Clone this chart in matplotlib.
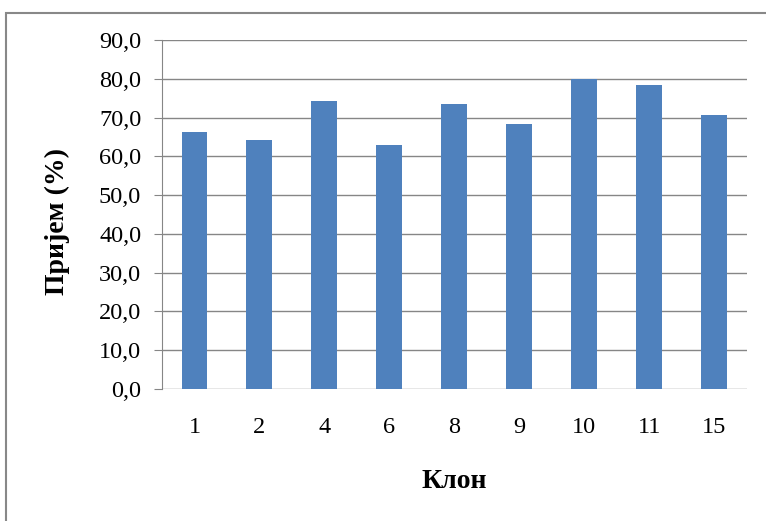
import matplotlib
matplotlib.use("Agg")
import matplotlib.pyplot as plt
from matplotlib.patches import Rectangle
from matplotlib.ticker import FuncFormatter

# clone numbers and acceptance percentage
clones = ["1", "2", "4", "6", "8", "9", "10", "11", "15"]
values = [66.3, 64.3, 74.2, 63.0, 73.4, 68.3, 80.0, 78.3, 70.6]
yticks = [0, 10, 20, 30, 40, 50, 60, 70, 80, 90]

plt.rcParams['font.family'] = ['Liberation Serif', 'DejaVu Serif']

fig = plt.figure(figsize=(7.66, 5.21), dpi=100)
ax = fig.add_axes([0.2115, 0.2534, 0.7635, 0.6698])

grid_col = "#868686"
ax.bar(range(len(clones)), values, width=0.4, color="#4F81BD", zorder=3)

ax.set_xlim(-0.5, len(clones) - 0.5)
ax.set_ylim(0, 90)
ax.set_yticks(yticks)
ax.yaxis.set_major_formatter(FuncFormatter(lambda v, p: f"{v:.1f}".replace(".", ",")))
ax.set_xticks(range(len(clones)))
ax.set_xticklabels(clones)

ax.grid(axis="y", color=grid_col, linewidth=1, zorder=0)
for s in ["top", "right", "bottom"]:
    ax.spines[s].set_visible(False)
ax.spines["left"].set_color(grid_col)
ax.tick_params(axis="y", length=6, color=grid_col, labelsize=17.5, pad=9)
ax.tick_params(axis="x", length=0, labelsize=17.5, pad=20)

ax.set_xlabel("Клон", fontsize=20, fontweight="bold")
ax.set_ylabel("Пријем (%)", fontsize=20, fontweight="bold")
ax.xaxis.set_label_coords(0.5, -0.266)
ax.xaxis.label.set_verticalalignment("center")
ax.yaxis.set_label_coords(-0.178, 0.48)
ax.yaxis.label.set_verticalalignment("center")

# outer chart frame
fig.patches.append(Rectangle((6 / 766, -0.05), 1.2, 1 - 13 / 521 + 0.05,
                             transform=fig.transFigure, fill=False,
                             edgecolor="#888888", linewidth=1.5))

fig.savefig("out.png", dpi=100)
